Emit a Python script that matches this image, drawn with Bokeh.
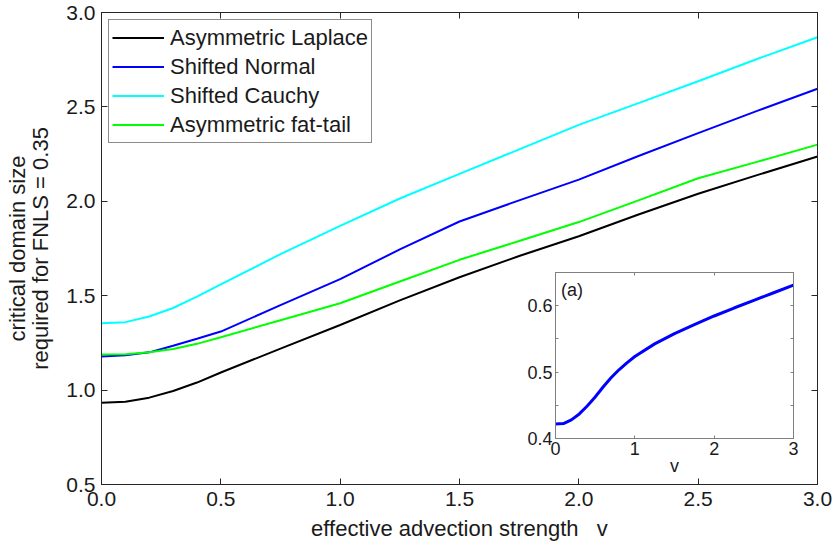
from bokeh.plotting import figure
from bokeh.models import (Range1d, LinearAxis, FixedTicker, PrintfTickFormatter, Label,
                          CustomLabelingPolicy)
from bokeh.layouts import column
from bokeh.embed import file_html
from bokeh.resources import INLINE

FONT = "Liberation Sans"

# effective advection strength v
v = [0.0, 0.1, 0.2, 0.3, 0.4, 0.5, 0.75, 1.0, 1.25, 1.5, 1.75, 2.0, 2.25, 2.5, 2.75, 3.0]
# critical domain size for each dispersal kernel
laplace = [0.933, 0.938, 0.960, 0.995, 1.040, 1.093, 1.220, 1.345, 1.475, 1.598, 1.710, 1.815, 1.930, 2.040, 2.140, 2.237]
normal = [1.178, 1.185, 1.200, 1.235, 1.272, 1.310, 1.450, 1.588, 1.745, 1.893, 2.005, 2.115, 2.240, 2.361, 2.480, 2.596]
cauchy = [1.354, 1.360, 1.390, 1.435, 1.495, 1.560, 1.720, 1.870, 2.015, 2.145, 2.275, 2.405, 2.520, 2.636, 2.755, 2.869]
fattail = [1.189, 1.190, 1.200, 1.218, 1.245, 1.280, 1.370, 1.460, 1.575, 1.690, 1.790, 1.890, 2.005, 2.122, 2.210, 2.300]

series_names = ["Asymmetric Laplace", "Shifted Normal", "Shifted Cauchy", "Asymmetric fat-tail"]
series_colors = ["#000000", "#0000ff", "#00ffff", "#00ff00"]

# inset (a)
v_inset = [0.0, 0.1, 0.2, 0.3, 0.4, 0.5, 0.6, 0.7, 0.8, 0.9, 1.0, 1.25, 1.5, 1.75, 2.0, 2.25, 2.5, 2.75, 3.0]
inset_vals = [0.422, 0.4225, 0.428, 0.437, 0.449, 0.4625, 0.4775, 0.4915, 0.5035, 0.514, 0.5235,
              0.5425, 0.558, 0.5715, 0.5845, 0.5965, 0.608, 0.6195, 0.631]

main_xticks = [0.0, 0.5, 1.0, 1.5, 2.0, 2.5, 3.0]
main_yticks = [0.5, 1.0, 1.5, 2.0, 2.5, 3.0]
inset_xticks = [0, 1, 2, 3]
inset_yticks = [0.4, 0.5, 0.6]
inset_yminor = [0.45, 0.55, 0.65]

AX = "#262626"
TXT = "#1a1a1a"


def style_axis(ax, ticks, fmt, size, color, tick_len, labels=True, minor=None):
    ax.ticker = FixedTicker(ticks=ticks, minor_ticks=minor or [])
    ax.formatter = PrintfTickFormatter(format=fmt)
    ax.axis_line_color = color
    ax.major_tick_line_color = color
    ax.minor_tick_line_color = color
    ax.major_tick_in = tick_len
    ax.major_tick_out = 0
    ax.minor_tick_in = tick_len if minor else 0
    ax.minor_tick_out = 0
    ax.major_label_text_font = FONT
    ax.major_label_text_color = TXT
    ax.major_label_text_font_size = size
    if not labels:
        # tick marks only: no label is kept
        ax.major_label_policy = CustomLabelingPolicy(code="return []")
        ax.major_label_standoff = 0


def style_label(ax, size, standoff):
    ax.axis_label_text_font = FONT
    ax.axis_label_text_font_size = size
    ax.axis_label_text_font_style = "normal"
    ax.axis_label_text_color = TXT
    ax.axis_label_standoff = standoff


p = figure(width=833, height=545, output_backend="svg", toolbar_location=None,
           x_range=Range1d(0, 3), y_range=Range1d(0.5, 3.0),
           min_border_left=101, min_border_right=16, min_border_top=12, min_border_bottom=61,
           x_axis_label="effective advection strength\u00a0\u00a0\u00a0v",
           y_axis_label="required for FNLS = 0.35")
p.grid.visible = False
p.outline_line_color = AX
p.background_fill_color = "white"
p.border_fill_color = "white"

style_axis(p.xaxis[0], main_xticks, "%.1f", "21px", AX, 6)
style_axis(p.yaxis[0], main_yticks, "%.1f", "21px", AX, 6)
p.xaxis[0].major_label_standoff = 7
p.yaxis[0].major_label_standoff = 6
style_label(p.xaxis[0], "22px", 7)
style_label(p.yaxis[0], "22px", 10)

# outer line of the two-line y label
outer = LinearAxis(axis_label="critical domain size")
style_axis(outer, [], "%.1f", "21px", None, 0, labels=False)
outer.axis_line_color = None
style_label(outer, "22px", -4)
p.add_layout(outer, "left")

# box ticks on top and right
top = LinearAxis()
style_axis(top, main_xticks, "%.1f", "1px", AX, 6, labels=False)
p.add_layout(top, "above")
right = LinearAxis()
style_axis(right, main_yticks, "%.1f", "1px", AX, 6, labels=False)
p.add_layout(right, "right")

for name, color, ys in zip(series_names, series_colors, [laplace, normal, cauchy, fattail]):
    p.line(v, ys, line_color=color, line_width=2, legend_label=name)

lg = p.legend[0]
lg.location = "top_left"
lg.margin = 7
lg.padding = 3
lg.spacing = 0
lg.glyph_width = 52
lg.glyph_height = 29
lg.label_height = 29
lg.label_standoff = 6
lg.label_text_font = FONT
lg.label_text_font_size = "22px"
lg.label_text_color = TXT
lg.border_line_color = TXT
lg.border_line_width = 1
lg.background_fill_color = "white"
lg.background_fill_alpha = 1.0

# inset (a); its side borders follow the main plot's so the frames line up in the column
GRAY = "#808080"
inset = figure(width=355, height=215, output_backend="svg", toolbar_location=None,
               x_range=Range1d(0, 3), y_range=Range1d(0.4, 0.65),
               min_border_left=101, min_border_right=16, min_border_top=5, min_border_bottom=44,
               x_axis_label="v", margin=(-278, 0, 0, 454))
inset.grid.visible = False
inset.outline_line_color = GRAY
inset.background_fill_color = "white"
inset.border_fill_color = None
style_axis(inset.xaxis[0], inset_xticks, "%d", "18px", GRAY, 3)
style_axis(inset.yaxis[0], inset_yticks, "%.1f", "18px", GRAY, 3, minor=inset_yminor)
inset.xaxis[0].major_label_standoff = 3
inset.yaxis[0].major_label_standoff = 3
style_label(inset.xaxis[0], "18px", -2)
itop = LinearAxis()
style_axis(itop, inset_xticks, "%d", "1px", GRAY, 3, labels=False)
inset.add_layout(itop, "above")
iright = LinearAxis()
style_axis(iright, inset_yticks, "%.1f", "1px", GRAY, 3, labels=False, minor=inset_yminor)
inset.add_layout(iright, "right")

inset.line(v_inset, inset_vals, line_color="#0000ff", line_width=3)
inset.add_layout(Label(x=0.07, y=0.638, text="(a)", text_font=FONT, text_font_size="18px",
                       text_color=TXT, text_baseline="top"))

layout = column(p, inset, spacing=0)
open("out.html", "w").write(file_html(layout, INLINE))
